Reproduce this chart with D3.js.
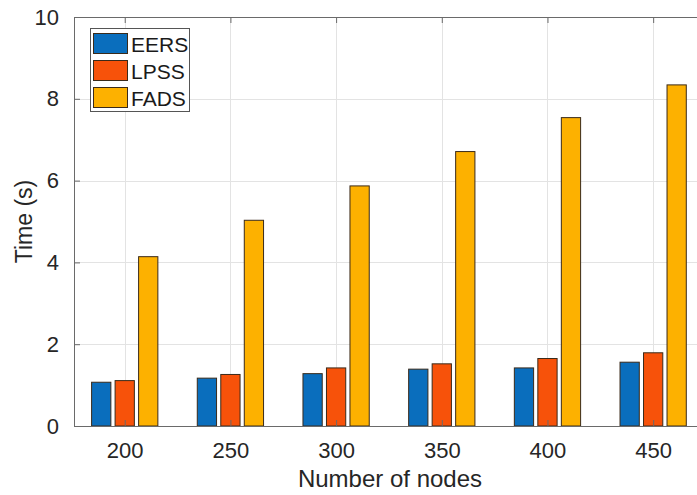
<!DOCTYPE html>
<html>
<head>
<meta charset="utf-8">
<script src="https://cdn.jsdelivr.net/npm/d3@7"></script>
<style>
  html, body { margin: 0; padding: 0; background: #fff; }
  svg { display: block; font-family: "Liberation Sans", Arial, Helvetica, sans-serif; }
</style>
</head>
<body>
<svg id="chart" width="697" height="495"></svg>
<script>
"use strict";

// data
var nodeCounts = [200, 250, 300, 350, 400, 450];
var seriesNames = ["EERS", "LPSS", "FADS"];
var eersTime = [1.07, 1.17, 1.28, 1.39, 1.42, 1.56];
var lpssTime = [1.11, 1.26, 1.42, 1.52, 1.65, 1.79];
var fadsTime = [4.14, 5.03, 5.87, 6.71, 7.54, 8.34];
var yTicks = [0, 2, 4, 6, 8, 10];

var seriesValues = [eersTime, lpssTime, fadsTime];
var seriesColors = ["#0a6ebd", "#f7520a", "#fdb100"];

var plot = { left: 74, top: 17, right: 706, bottom: 426 };
var GRID_COLOR = "#e3e3e3";
var AXIS_COLOR = "#6a6a6a";
var TICK_LEN = 6;

var svg = d3.select("#chart");

var x = d3.scaleLinear().domain([176, 475]).range([plot.left, plot.right]);
var y = d3.scaleLinear().domain([0, 10]).range([plot.bottom, plot.top]);
var xSub = d3.scaleBand().domain(seriesNames).range([-35.25, 35.25])
  .paddingInner(0.18).paddingOuter(0.09);

// grid
var grid = svg.append("g").attr("class", "grid");
grid.selectAll("line.gx")
  .data(nodeCounts)
  .enter()
  .append("line")
  .attr("x1", function (d) { return Math.round(x(d)) + 0.5; })
  .attr("x2", function (d) { return Math.round(x(d)) + 0.5; })
  .attr("y1", plot.top)
  .attr("y2", plot.bottom)
  .attr("stroke", GRID_COLOR);
grid.selectAll("line.gy")
  .data(yTicks)
  .enter()
  .append("line")
  .attr("x1", plot.left)
  .attr("x2", plot.right)
  .attr("y1", function (d) { return Math.round(y(d)) + 0.5; })
  .attr("y2", function (d) { return Math.round(y(d)) + 0.5; })
  .attr("stroke", GRID_COLOR);

// bars
var data = d3.transpose(seriesValues);
var groups = svg.selectAll("g.group")
  .data(data)
  .enter()
  .append("g")
  .attr("class", "group")
  .attr("transform", function (d, i) { return "translate(" + x(nodeCounts[i]) + ",0)"; });

groups.selectAll("rect")
  .data(function (d) { return d; })
  .enter()
  .append("rect")
  .attr("x", function (d, i) { return xSub(seriesNames[i]); })
  .attr("width", xSub.bandwidth())
  .attr("y", function (d) { return y(d); })
  .attr("height", function (d) { return y(0) - y(d); })
  .attr("fill", function (d, i) { return seriesColors[i]; })
  .attr("stroke", "#3a2a1a")
  .attr("stroke-width", 1);

// axes (MATLAB style, ticks inward)
var xAxis = d3.axisBottom(x).tickValues(nodeCounts).tickSizeInner(-TICK_LEN).tickSizeOuter(0).tickPadding(16);
var yAxis = d3.axisLeft(y).tickValues(yTicks).tickSizeInner(-TICK_LEN).tickSizeOuter(0).tickPadding(15);
var xTop = d3.axisTop(x).tickValues(nodeCounts).tickSizeInner(-TICK_LEN).tickSizeOuter(0).tickFormat("");

var gx = svg.append("g").attr("transform", "translate(0," + plot.bottom + ")").call(xAxis);
var gy = svg.append("g").attr("transform", "translate(" + plot.left + ",0)").call(yAxis);
var gt = svg.append("g").attr("transform", "translate(0," + plot.top + ")").call(xTop);

[gx, gy, gt].forEach(function (g) {
  g.select(".domain").attr("stroke", AXIS_COLOR);
  g.selectAll(".tick line").attr("stroke", AXIS_COLOR);
  g.selectAll(".tick text")
    .attr("fill", "#262626")
    .style("font-size", "22px")
    .style("font-family", "'Liberation Sans', Arial, sans-serif");
});

// axis labels
svg.append("text")
  .attr("x", (plot.left + plot.right) / 2)
  .attr("y", 487)
  .attr("text-anchor", "middle")
  .attr("fill", "#262626")
  .style("font-size", "24px")
  .text("Number of nodes");

svg.append("text")
  .attr("transform", "translate(32," + (plot.top + plot.bottom) / 2 + ") rotate(-90)")
  .attr("text-anchor", "middle")
  .attr("fill", "#262626")
  .style("font-size", "23px")
  .text("Time (s)");

// legend
var legend = svg.append("g").attr("transform", "translate(90,28)");
legend.append("rect")
  .attr("x", 0.5).attr("y", 0.5)
  .attr("width", 99).attr("height", 83)
  .attr("fill", "#fff")
  .attr("stroke", "#555");

var items = legend.selectAll("g.item")
  .data(seriesNames)
  .enter()
  .append("g")
  .attr("class", "item")
  .attr("transform", function (d, i) { return "translate(3," + (5 + i * 27) + ")"; });

items.append("rect")
  .attr("x", 0.5).attr("y", 0.5)
  .attr("width", 34).attr("height", 20)
  .attr("fill", function (d, i) { return seriesColors[i]; })
  .attr("stroke", "#3a2a1a");

items.append("text")
  .attr("x", 38)
  .attr("y", 18.5)
  .attr("fill", "#1a1a1a")
  .style("font-size", "21px")
  .text(function (d) { return d; });
</script>
</body>
</html>
